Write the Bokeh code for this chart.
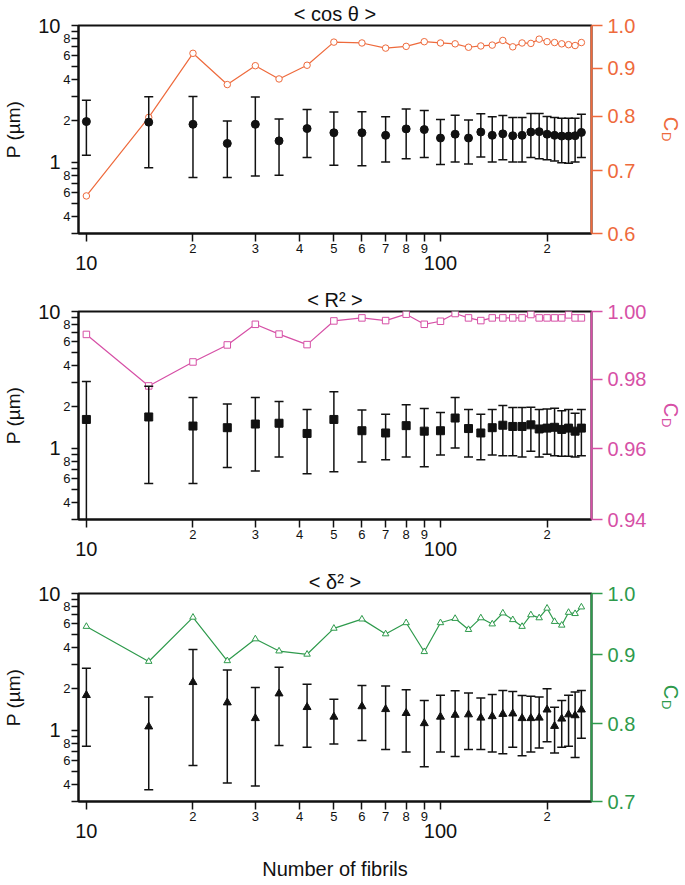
from bokeh.plotting import figure
from bokeh.models import Range1d, LogAxis, LinearAxis, FixedTicker, ColumnDataSource
from bokeh.layouts import column
from bokeh.embed import file_html
from bokeh.resources import INLINE

# ---------------- data ----------------
n_fibrils = [10, 15, 20, 25, 30, 35, 42, 50, 60, 70, 80, 90, 100, 110, 120, 130,
             140, 150, 160, 170, 180, 190, 200, 210, 220, 230, 240, 250]

# <cos theta>
p_cos = [1.98, 1.96, 1.89, 1.37, 1.89, 1.43, 1.76, 1.64, 1.64, 1.57, 1.75, 1.73, 1.50, 1.60,
         1.50, 1.66, 1.57, 1.61, 1.56, 1.57, 1.66, 1.67, 1.60, 1.57, 1.55, 1.55, 1.56, 1.65]
p_cos_hi = [2.84, 3.01, 3.02, 2.00, 2.99, 2.07, 2.43, 2.33, 2.34, 2.15, 2.45, 2.39, 2.05, 2.20,
            2.03, 2.26, 2.15, 2.19, 2.12, 2.12, 2.27, 2.27, 2.16, 2.12, 2.09, 2.09, 2.09, 2.24]
p_cos_lo = [1.12, 0.91, 0.77, 0.77, 0.79, 0.80, 1.08, 0.95, 0.94, 1.00, 1.06, 1.08, 0.96, 1.00,
            0.97, 1.09, 1.00, 1.04, 1.00, 1.00, 1.08, 1.06, 1.04, 1.02, 0.99, 0.98, 1.00, 1.08]
cd_cos = [0.658, 0.798, 0.934, 0.865, 0.906, 0.877, 0.907, 0.960, 0.958, 0.946, 0.950, 0.961,
          0.958, 0.956, 0.948, 0.951, 0.953, 0.964, 0.949, 0.958, 0.957, 0.967, 0.961, 0.959,
          0.956, 0.954, 0.952, 0.959]

# <R^2>
p_r2 = [1.62, 1.69, 1.45, 1.41, 1.50, 1.52, 1.28, 1.62, 1.34, 1.29, 1.46, 1.33, 1.34, 1.66,
        1.39, 1.29, 1.41, 1.47, 1.44, 1.44, 1.48, 1.38, 1.40, 1.42, 1.37, 1.40, 1.33, 1.40]
p_r2_hi = [3.07, 2.84, 2.35, 2.10, 2.35, 2.19, 1.92, 2.59, 1.90, 1.77, 2.08, 1.95, 1.82, 2.35,
           1.92, 1.77, 1.92, 2.05, 1.98, 1.98, 1.99, 1.92, 1.93, 1.96, 1.88, 1.92, 1.80, 1.92]
p_r2_lo = [0.28, 0.55, 0.55, 0.72, 0.68, 0.86, 0.65, 0.67, 0.79, 0.82, 0.86, 0.73, 0.89, 1.00,
           0.86, 0.82, 0.89, 0.88, 0.88, 0.86, 0.95, 0.86, 0.90, 0.88, 0.87, 0.87, 0.86, 0.88]
cd_r2 = [0.9932, 0.9781, 0.9851, 0.9901, 0.9962, 0.9933, 0.9902, 0.9972, 0.9981, 0.9973,
         0.9992, 0.9962, 0.9971, 0.9994, 0.9981, 0.9973, 0.9981, 0.9981, 0.9981, 0.9981,
         0.9991, 0.9981, 0.9981, 0.9981, 0.9981, 0.9990, 0.9981, 0.9981]

# <delta^2>
p_d2 = [1.80, 1.06, 2.24, 1.59, 1.22, 1.85, 1.47, 1.25, 1.49, 1.42, 1.33, 1.12, 1.25, 1.29,
        1.30, 1.23, 1.26, 1.31, 1.32, 1.22, 1.22, 1.23, 1.41, 1.07, 1.21, 1.30, 1.28, 1.41]
p_d2_hi = [2.84, 1.75, 3.89, 2.75, 2.05, 2.88, 2.17, 1.68, 2.12, 2.10, 1.97, 1.65, 1.80, 1.94,
           1.87, 1.72, 1.82, 1.95, 1.92, 1.79, 1.77, 1.75, 2.01, 1.47, 1.65, 1.80, 1.90, 1.95]
p_d2_lo = [0.76, 0.366, 0.55, 0.41, 0.39, 0.77, 0.75, 0.79, 0.84, 0.72, 0.69, 0.54, 0.69, 0.64,
           0.72, 0.72, 0.69, 0.67, 0.75, 0.65, 0.69, 0.74, 0.82, 0.68, 0.75, 0.76, 0.63, 0.87]
cd_d2 = [0.945, 0.890, 0.960, 0.891, 0.925, 0.906, 0.901, 0.942, 0.957, 0.933, 0.951, 0.905,
         0.951, 0.958, 0.940, 0.959, 0.949, 0.967, 0.956, 0.945, 0.964, 0.959, 0.975, 0.953,
         0.947, 0.968, 0.966, 0.977]

# ticks and labels
x_minor_ticks = [10, 20, 30, 40, 50, 60, 70, 80, 90, 100, 200]
x_minor_labels = ["", "2", "3", "4", "5", "6", "7", "8", "9", "", "2"]
x_major_ticks = [10, 100]
x_major_labels = ["10", "100"]
y_small_ticks = [0.4, 0.6, 0.8, 1, 2, 4, 6, 8, 10]
y_small_labels = ["4", "6", "8", "", "2", "4", "6", "8", ""]
y_unlabeled_ticks = [0.3, 0.5, 0.7, 0.9, 3, 5, 7, 9]
y_big_ticks = [1, 10]
y_big_labels = ["1", "10"]

cd_ticks_cos = [0.6, 0.7, 0.8, 0.9, 1.0]
cd_labels_cos = ["0.6", "0.7", "0.8", "0.9", "1.0"]
cd_ticks_r2 = [0.94, 0.96, 0.98, 1.00]
cd_labels_r2 = ["0.94", "0.96", "0.98", "1.00"]
cd_ticks_d2 = [0.7, 0.8, 0.9, 1.0]
cd_labels_d2 = ["0.7", "0.8", "0.9", "1.0"]

titles = ["< cos \u03b8 >", "< R\u00b2 >", "< \u03b4\u00b2 >"]
x_title = "Number of fibrils"
y_title = "P (\u00b5m)"
cd_main = "C"
cd_sub = "D"

# ---------------- style ----------------
FONT = "Liberation Sans"
FRAME_W, FRAME_H = 513, 208
BLACK = "#111111"
NB = "\u00a0"


def make_panel(title, pv, phi, plo, cd, cd_rng, cd_ticks, cd_labels, color, marker,
               cd_marker, top, bottom, c_standoff, xlabel=None):
    p = figure(x_axis_type="log", y_axis_type="log",
               x_range=Range1d(9.5, 267), y_range=Range1d(0.3, 10),
               frame_width=FRAME_W, frame_height=FRAME_H,
               min_border_left=78, min_border_right=94,
               min_border_top=top, min_border_bottom=bottom,
               output_backend="svg", toolbar_location=None)
    p.xgrid.visible = False
    p.ygrid.visible = False
    p.outline_line_color = BLACK
    p.outline_line_width = 2
    p.background_fill_color = "white"
    p.border_fill_color = "white"
    p.extra_y_ranges = {"cd": Range1d(*cd_rng)}

    p.title.text = title
    p.title.align = "center"
    p.title.text_font = FONT
    p.title.text_font_size = "20px"
    p.title.text_font_style = "normal"
    p.title.text_color = BLACK
    p.title.standoff = 1

    # inner left axis with small labels
    ya = p.yaxis[0]
    ya.ticker = FixedTicker(ticks=y_small_ticks, minor_ticks=y_unlabeled_ticks)
    ya.major_label_overrides = dict(zip(y_small_ticks, y_small_labels))
    ya.major_label_text_font = FONT
    ya.major_label_text_font_size = "13px"
    ya.major_label_text_color = BLACK
    ya.major_label_standoff = 1
    ya.major_tick_out = 7
    ya.major_tick_in = 0
    ya.minor_tick_out = 7
    ya.minor_tick_in = 0
    ya.major_tick_line_width = 1.5
    ya.minor_tick_line_width = 1.5
    ya.major_tick_line_color = BLACK
    ya.minor_tick_line_color = BLACK
    ya.axis_line_color = BLACK
    ya.axis_line_width = 2

    # outer left axis with big labels
    yo = LogAxis(ticker=FixedTicker(ticks=y_big_ticks, minor_ticks=[]))
    yo.major_label_overrides = dict(zip(y_big_ticks, y_big_labels))
    yo.major_label_text_font = FONT
    yo.major_label_text_font_size = "20px"
    yo.major_label_text_color = BLACK
    yo.major_label_standoff = 0
    yo.major_tick_line_color = None
    yo.minor_tick_line_color = None
    yo.major_tick_out = 0
    yo.minor_tick_out = 0
    yo.axis_line_color = None
    yo.axis_label = y_title
    yo.axis_label_text_font = FONT
    yo.axis_label_text_font_size = "19px"
    yo.axis_label_text_font_style = "normal"
    yo.axis_label_text_color = BLACK
    yo.axis_label_standoff = 11
    p.add_layout(yo, "left")

    # inner bottom axis
    xa = p.xaxis[0]
    xa.ticker = FixedTicker(ticks=x_minor_ticks, minor_ticks=[])
    xa.major_label_overrides = dict(zip(x_minor_ticks, x_minor_labels))
    xa.major_label_text_font = FONT
    xa.major_label_text_font_size = "13px"
    xa.major_label_text_color = BLACK
    xa.major_label_standoff = 2
    xa.major_tick_out = 8
    xa.major_tick_in = 0
    xa.major_tick_line_width = 1.5
    xa.major_tick_line_color = BLACK
    xa.minor_tick_line_color = None
    xa.axis_line_color = BLACK
    xa.axis_line_width = 2

    # outer bottom axis
    xo = LogAxis(ticker=FixedTicker(ticks=x_major_ticks, minor_ticks=[]))
    xo.major_label_overrides = dict(zip(x_major_ticks, x_major_labels))
    xo.major_label_text_font = FONT
    xo.major_label_text_font_size = "20px"
    xo.major_label_text_color = BLACK
    xo.major_label_standoff = 0
    xo.major_tick_line_color = None
    xo.minor_tick_line_color = None
    xo.major_tick_out = 0
    xo.minor_tick_out = 0
    xo.axis_line_color = None
    if xlabel:
        xo.axis_label = xlabel
        xo.axis_label_text_font = FONT
        xo.axis_label_text_font_size = "20px"
        xo.axis_label_text_font_style = "normal"
        xo.axis_label_text_color = BLACK
        xo.axis_label_standoff = 17
    p.add_layout(xo, "below")

    # right axis (C)
    yr = LinearAxis(y_range_name="cd", ticker=FixedTicker(ticks=cd_ticks, minor_ticks=[]))
    yr.major_label_overrides = dict(zip(cd_ticks, cd_labels))
    yr.major_label_text_font = FONT
    yr.major_label_text_font_size = "20px"
    yr.major_label_text_color = color
    yr.major_label_standoff = 5
    yr.major_tick_out = 11
    yr.major_tick_in = 0
    yr.major_tick_line_color = color
    yr.major_tick_line_width = 1.5
    yr.minor_tick_line_color = None
    yr.axis_line_color = color
    yr.axis_line_width = 2
    yr.axis_label = cd_main + NB + NB
    yr.axis_label_text_font = FONT
    yr.axis_label_text_font_size = "20px"
    yr.axis_label_text_font_style = "normal"
    yr.axis_label_text_color = color
    yr.axis_label_standoff = c_standoff
    p.add_layout(yr, "right")

    # subscript D as the label of a bare axis pulled back next to C
    yd = LinearAxis(y_range_name="cd", ticker=FixedTicker(ticks=[], minor_ticks=[]))
    yd.major_label_text_font_size = "0px"
    yd.major_tick_line_color = None
    yd.minor_tick_line_color = None
    yd.axis_line_color = None
    yd.axis_label = NB * 4 + cd_sub
    yd.axis_label_text_font = FONT
    yd.axis_label_text_font_size = "13px"
    yd.axis_label_text_font_style = "normal"
    yd.axis_label_text_color = color
    yd.axis_label_standoff = -27
    p.add_layout(yd, "right")

    src = ColumnDataSource(dict(n=n_fibrils, p=pv, hi=phi, lo=plo, cd=cd))

    p.line(x="n", y="cd", y_range_name="cd", source=src, line_color=color, line_width=1.2)
    p.scatter(x="n", y="cd", y_range_name="cd", source=src, marker=cd_marker,
              size=6.5, fill_color="white", line_color=color, line_width=1)

    p.segment(x0="n", y0="lo", x1="n", y1="hi", source=src, line_color=BLACK, line_width=1.5)
    p.scatter(x="n", y="hi", source=src, marker="dash", size=9, line_color=BLACK, line_width=1.5)
    p.scatter(x="n", y="lo", source=src, marker="dash", size=9, line_color=BLACK, line_width=1.5)
    p.scatter(x="n", y="p", source=src, marker=marker, size=8, fill_color=BLACK, line_color=BLACK)
    return p


p1 = make_panel(titles[0], p_cos, p_cos_hi, p_cos_lo, cd_cos, (0.6, 1.0), cd_ticks_cos,
                cd_labels_cos, "#EE6A3C", "circle", "circle", 24, 51, 22)
p2 = make_panel(titles[1], p_r2, p_r2_hi, p_r2_lo, cd_r2, (0.94, 1.0), cd_ticks_r2,
                cd_labels_r2, "#D650A6", "square", "square", 27, 48, 11)
p3 = make_panel(titles[2], p_d2, p_d2_hi, p_d2_lo, cd_d2, (0.7, 1.0), cd_ticks_d2,
                cd_labels_d2, "#2E9A4C", "triangle", "triangle", 26, 84, 22, xlabel=x_title)

layout = column(p1, p2, p3, spacing=0)
open("out.html", "w").write(file_html(layout, INLINE))
